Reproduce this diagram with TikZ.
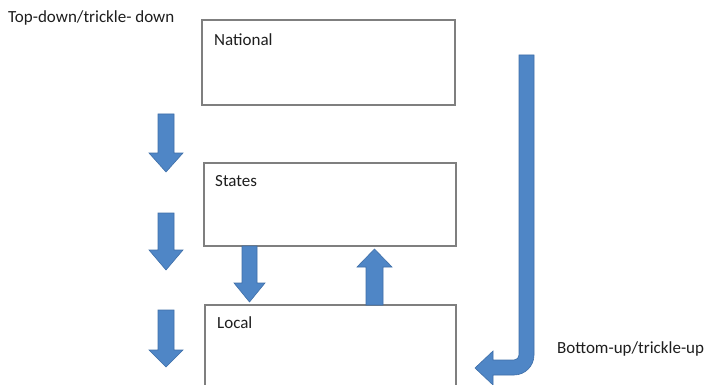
\documentclass[tikz,border=0pt]{standalone}
\usepackage{fontspec}
\setmainfont{Carlito}
\definecolor{arrowfill}{HTML}{4F86C6}
\definecolor{arrowedge}{HTML}{3F6FA8}
\definecolor{boxedge}{HTML}{7F7F7F}
\definecolor{labeltext}{HTML}{1E1E1E}
\begin{document}
\begin{tikzpicture}[x=1pt,y=-1pt,
  levelbox/.style={draw=boxedge,line width=1.2pt,fill=white},
  blockarrow/.style={fill=arrowfill,draw=arrowedge,line width=0.6pt,line join=miter},
  levellabel/.style={anchor=base west,inner sep=0pt,font=\fontsize{17}{20}\selectfont,text=labeltext},
  sidelabel/.style={anchor=base west,inner sep=0pt,font=\fontsize{17}{20}\selectfont,text=labeltext}]
\clip (0,0) rectangle (709,385);
\useasboundingbox (0,0) rectangle (709,385);
\fill[white] (0,0) rectangle (709,385);

% government levels
\draw[levelbox] (202,20) rectangle (455,105);
\draw[levelbox] (204,163) rectangle (456,246);
\draw[levelbox] (205,305) rectangle (456,395);
\node[levellabel] (national) at (214,46) {National};
\node[levellabel] (states) at (215,186) {States};
\node[levellabel] (local) at (217,328) {Local};

% side captions
\node[sidelabel] (topdown) at (8,23) {Top-down/trickle- down};
\node[sidelabel] (bottomup) at (557,353) {Bottom-up/trickle-up};

% top-down column of arrows
\foreach \top/\base/\tip in {114/153/172, 213/250/270, 310/350/367}{
  \draw[blockarrow] (158,\top) -- (174,\top) -- (174,\base) -- (183,\base)
    -- (166,\tip) -- (149,\base) -- (158,\base) -- cycle;
}

% states to local
\draw[blockarrow] (242,246) -- (257,246) -- (257,283) -- (265,283)
  -- (249.5,302) -- (234,283) -- (242,283) -- cycle;

% local to states
\draw[blockarrow] (366,305) -- (383,305) -- (383,267) -- (392,267)
  -- (374.5,249) -- (357,267) -- (366,267) -- cycle;

% long bent arrow on the right
\draw[blockarrow] (519,55) -- (534,55) -- (534,355)
  arc[start angle=0,end angle=90,radius=20]
  -- (493,375) -- (493,385) -- (475,368) -- (493,351) -- (493,360) -- (514,360)
  arc[start angle=90,end angle=0,radius=5]
  -- cycle;
\end{tikzpicture}
\end{document}
